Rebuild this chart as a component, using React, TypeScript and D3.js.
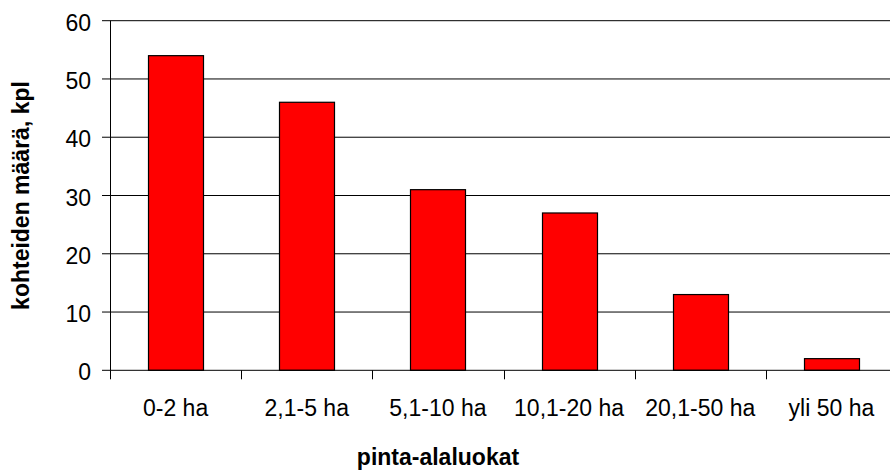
import React from "react";
import * as d3 from "d3";

const categories = ["0-2 ha", "2,1-5 ha", "5,1-10 ha", "10,1-20 ha", "20,1-50 ha", "yli 50 ha"];
const values = [54, 46, 31, 27, 13, 2];
const yTicks = [0, 10, 20, 30, 40, 50, 60];
const xTitle = "pinta-alaluokat";
const yTitle = "kohteiden määrä, kpl";

const W = 890;
const H = 472;
const left = 110;
const right = 897;
const top = 20.7;
const bottom = 370.3;
const font = "'Liberation Sans', Arial, sans-serif";

export default function App() {
  const x = d3.scaleBand<string>().domain(categories).range([left, right]).paddingInner(0).paddingOuter(0);
  const y = d3.scaleLinear().domain([0, 60]).range([bottom, top]);
  const bw = 55;
  const bounds = d3.range(categories.length + 1).map((i) => left + i * x.step());

  return (
    <svg width={W} height={H} style={{ position: "absolute", left: 0, top: 0, background: "#fff" }}>
      {yTicks.map((t) => (
        <g key={t}>
          {t > 0 && <line x1={left} x2={right} y1={y(t)} y2={y(t)} stroke="#000" strokeWidth={1} />}
          <line x1={102} x2={left} y1={y(t)} y2={y(t)} stroke="#000" strokeWidth={1} />
          <text x={91} y={y(t) + 10} textAnchor="end" fontFamily={font} fontSize={23} fill="#000">
            {t}
          </text>
        </g>
      ))}
      {categories.map((c, i) => {
        const cx = (x(c) as number) + x.bandwidth() / 2;
        return (
          <g key={c}>
            <rect
              x={Math.round(cx - bw / 2) + 0.5}
              y={y(values[i])}
              width={bw}
              height={y(0) - y(values[i])}
              fill="#ff0000"
              stroke="#000"
              strokeWidth={1.2}
            />
            <text x={cx} y={415.5} textAnchor="middle" fontFamily={font} fontSize={23} fill="#000">
              {c}
            </text>
          </g>
        );
      })}
      <line x1={left} x2={right} y1={bottom} y2={bottom} stroke="#000" strokeWidth={1} />
      <line x1={left + 0.5} x2={left + 0.5} y1={top} y2={bottom} stroke="#000" strokeWidth={1} />
      {bounds.map((b, i) => (
        <line key={i} x1={Math.round(b) + 0.5} x2={Math.round(b) + 0.5} y1={bottom} y2={bottom + 9} stroke="#000" strokeWidth={1} />
      ))}
      <text x={438} y={465} textAnchor="middle" fontFamily={font} fontSize={23} fontWeight="bold" fill="#000">
        {xTitle}
      </text>
      <text
        transform={`translate(28.5, ${(top + bottom) / 2}) rotate(-90)`}
        textAnchor="middle"
        fontFamily={font}
        fontSize={23}
        fontWeight="bold"
        fill="#000"
      >
        {yTitle}
      </text>
    </svg>
  );
}
